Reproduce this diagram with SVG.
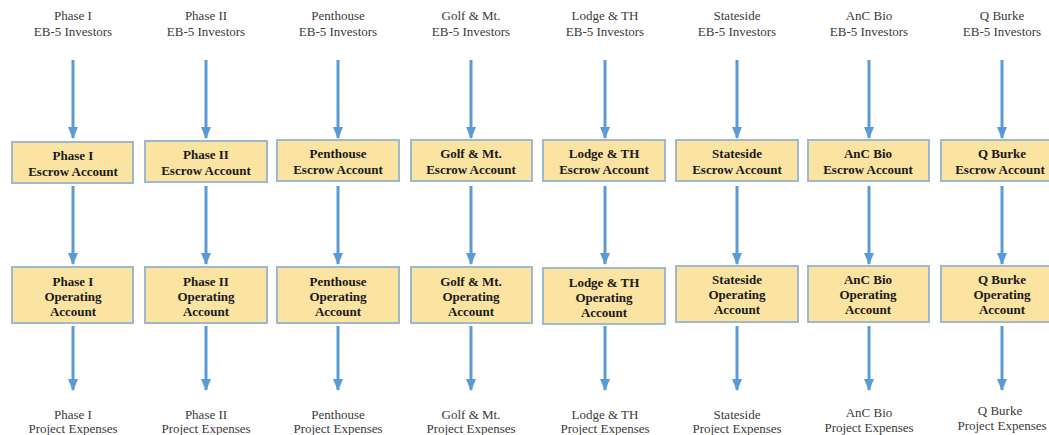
<svg xmlns="http://www.w3.org/2000/svg" width="1049" height="435" viewBox="0 0 1049 435">
<style>
.lbl{font-family:"Liberation Serif","Times New Roman",serif;font-size:13px;fill:#3a3a3a;text-anchor:middle}
.bt{font-family:"Liberation Serif","Times New Roman",serif;font-size:13px;font-weight:bold;fill:#1a1a1a;text-anchor:middle}
.box{fill:#fbe3a2;stroke:#9fb8cc;stroke-width:2}
.arr{stroke:#5b9bd5;stroke-width:3;fill:none;marker-end:url(#ah)}
</style>
<defs>
<marker id="ah" viewBox="0 0 12 10" refX="11" refY="5" markerWidth="4" markerHeight="3.4" orient="auto" markerUnits="strokeWidth">
<path d="M0,0 L12,5 L0,10 z" fill="#5b9bd5"/>
</marker>
</defs>
<rect width="1049" height="435" fill="#ffffff"/>
<g id="connectors">
<line class="arr" x1="73" y1="60" x2="73" y2="138"/>
<line class="arr" x1="73" y1="186" x2="73" y2="264"/>
<line class="arr" x1="73" y1="326" x2="73" y2="390"/>
<line class="arr" x1="206" y1="60" x2="206" y2="138"/>
<line class="arr" x1="206" y1="186" x2="206" y2="264"/>
<line class="arr" x1="206" y1="326" x2="206" y2="390"/>
<line class="arr" x1="338" y1="60" x2="338" y2="138"/>
<line class="arr" x1="338" y1="186" x2="338" y2="264"/>
<line class="arr" x1="338" y1="326" x2="338" y2="390"/>
<line class="arr" x1="471" y1="60" x2="471" y2="138"/>
<line class="arr" x1="471" y1="186" x2="471" y2="264"/>
<line class="arr" x1="471" y1="326" x2="471" y2="390"/>
<line class="arr" x1="605" y1="60" x2="605" y2="138"/>
<line class="arr" x1="605" y1="186" x2="605" y2="264"/>
<line class="arr" x1="605" y1="326" x2="605" y2="390"/>
<line class="arr" x1="737" y1="60" x2="737" y2="138"/>
<line class="arr" x1="737" y1="186" x2="737" y2="264"/>
<line class="arr" x1="737" y1="326" x2="737" y2="390"/>
<line class="arr" x1="869" y1="60" x2="869" y2="138"/>
<line class="arr" x1="869" y1="186" x2="869" y2="264"/>
<line class="arr" x1="869" y1="326" x2="869" y2="390"/>
<line class="arr" x1="1002" y1="60" x2="1002" y2="138"/>
<line class="arr" x1="1002" y1="186" x2="1002" y2="264"/>
<line class="arr" x1="1002" y1="326" x2="1002" y2="390"/>
</g>
<g id="col1">
<text class="lbl" x="73" y="20">Phase I</text><text class="lbl" x="73" y="36">EB-5 Investors</text>
<g id="escrow1"><rect class="box" x="12" y="142" width="121" height="41"/><text class="bt" x="73" y="160">Phase I</text><text class="bt" x="73" y="176">Escrow Account</text></g>
<g id="operating1"><rect class="box" x="12" y="267" width="121" height="56"/><text class="bt" x="73" y="286">Phase I</text><text class="bt" x="73" y="301">Operating</text><text class="bt" x="73" y="316">Account</text></g>
<text class="lbl" x="73" y="419">Phase I</text><text class="lbl" x="73" y="433">Project Expenses</text>
</g>
<g id="col2">
<text class="lbl" x="206" y="20">Phase II</text><text class="lbl" x="206" y="36">EB-5 Investors</text>
<g id="escrow2"><rect class="box" x="145" y="141" width="122" height="41"/><text class="bt" x="206" y="159">Phase II</text><text class="bt" x="206" y="175">Escrow Account</text></g>
<g id="operating2"><rect class="box" x="145" y="267" width="122" height="56"/><text class="bt" x="206" y="286">Phase II</text><text class="bt" x="206" y="301">Operating</text><text class="bt" x="206" y="316">Account</text></g>
<text class="lbl" x="206" y="419">Phase II</text><text class="lbl" x="206" y="433">Project Expenses</text>
</g>
<g id="col3">
<text class="lbl" x="338" y="20">Penthouse</text><text class="lbl" x="338" y="36">EB-5 Investors</text>
<g id="escrow3"><rect class="box" x="277" y="140" width="122" height="41"/><text class="bt" x="338" y="158">Penthouse</text><text class="bt" x="338" y="174">Escrow Account</text></g>
<g id="operating3"><rect class="box" x="277" y="267" width="122" height="56"/><text class="bt" x="338" y="286">Penthouse</text><text class="bt" x="338" y="301">Operating</text><text class="bt" x="338" y="316">Account</text></g>
<text class="lbl" x="338" y="419">Penthouse</text><text class="lbl" x="338" y="433">Project Expenses</text>
</g>
<g id="col4">
<text class="lbl" x="471" y="20">Golf &amp; Mt.</text><text class="lbl" x="471" y="36">EB-5 Investors</text>
<g id="escrow4"><rect class="box" x="411" y="140" width="121" height="41"/><text class="bt" x="471" y="158">Golf &amp; Mt.</text><text class="bt" x="471" y="174">Escrow Account</text></g>
<g id="operating4"><rect class="box" x="411" y="267" width="121" height="56"/><text class="bt" x="471" y="286">Golf &amp; Mt.</text><text class="bt" x="471" y="301">Operating</text><text class="bt" x="471" y="316">Account</text></g>
<text class="lbl" x="471" y="419">Golf &amp; Mt.</text><text class="lbl" x="471" y="433">Project Expenses</text>
</g>
<g id="col5">
<text class="lbl" x="605" y="20">Lodge &amp; TH</text><text class="lbl" x="605" y="36">EB-5 Investors</text>
<g id="escrow5"><rect class="box" x="543" y="140" width="122" height="41"/><text class="bt" x="604" y="158">Lodge &amp; TH</text><text class="bt" x="604" y="174">Escrow Account</text></g>
<g id="operating5"><rect class="box" x="543" y="268" width="122" height="56"/><text class="bt" x="604" y="287">Lodge &amp; TH</text><text class="bt" x="604" y="302">Operating</text><text class="bt" x="604" y="317">Account</text></g>
<text class="lbl" x="605" y="419">Lodge &amp; TH</text><text class="lbl" x="605" y="433">Project Expenses</text>
</g>
<g id="col6">
<text class="lbl" x="737" y="20">Stateside</text><text class="lbl" x="737" y="36">EB-5 Investors</text>
<g id="escrow6"><rect class="box" x="676" y="140" width="122" height="41"/><text class="bt" x="737" y="158">Stateside</text><text class="bt" x="737" y="174">Escrow Account</text></g>
<g id="operating6"><rect class="box" x="676" y="266" width="122" height="56"/><text class="bt" x="737" y="284">Stateside</text><text class="bt" x="737" y="299">Operating</text><text class="bt" x="737" y="314">Account</text></g>
<text class="lbl" x="737" y="419">Stateside</text><text class="lbl" x="737" y="433">Project Expenses</text>
</g>
<g id="col7">
<text class="lbl" x="869" y="20">AnC Bio</text><text class="lbl" x="869" y="36">EB-5 Investors</text>
<g id="escrow7"><rect class="box" x="808" y="140" width="121" height="41"/><text class="bt" x="868" y="158">AnC Bio</text><text class="bt" x="868" y="174">Escrow Account</text></g>
<g id="operating7"><rect class="box" x="808" y="266" width="121" height="56"/><text class="bt" x="868" y="284">AnC Bio</text><text class="bt" x="868" y="299">Operating</text><text class="bt" x="868" y="314">Account</text></g>
<text class="lbl" x="869" y="417">AnC Bio</text><text class="lbl" x="869" y="432">Project Expenses</text>
</g>
<g id="col8">
<text class="lbl" x="1002" y="20">Q Burke</text><text class="lbl" x="1002" y="36">EB-5 Investors</text>
<g id="escrow8"><rect class="box" x="941" y="140" width="122" height="41"/><text class="bt" x="1002" y="158">Q Burke</text><text class="bt" x="1000" y="174">Escrow Account</text></g>
<g id="operating8"><rect class="box" x="941" y="266" width="122" height="56"/><text class="bt" x="1002" y="284">Q Burke</text><text class="bt" x="1002" y="299">Operating</text><text class="bt" x="1002" y="314">Account</text></g>
<text class="lbl" x="1000" y="415">Q Burke</text><text class="lbl" x="1002" y="430">Project Expenses</text>
</g>
</svg>
